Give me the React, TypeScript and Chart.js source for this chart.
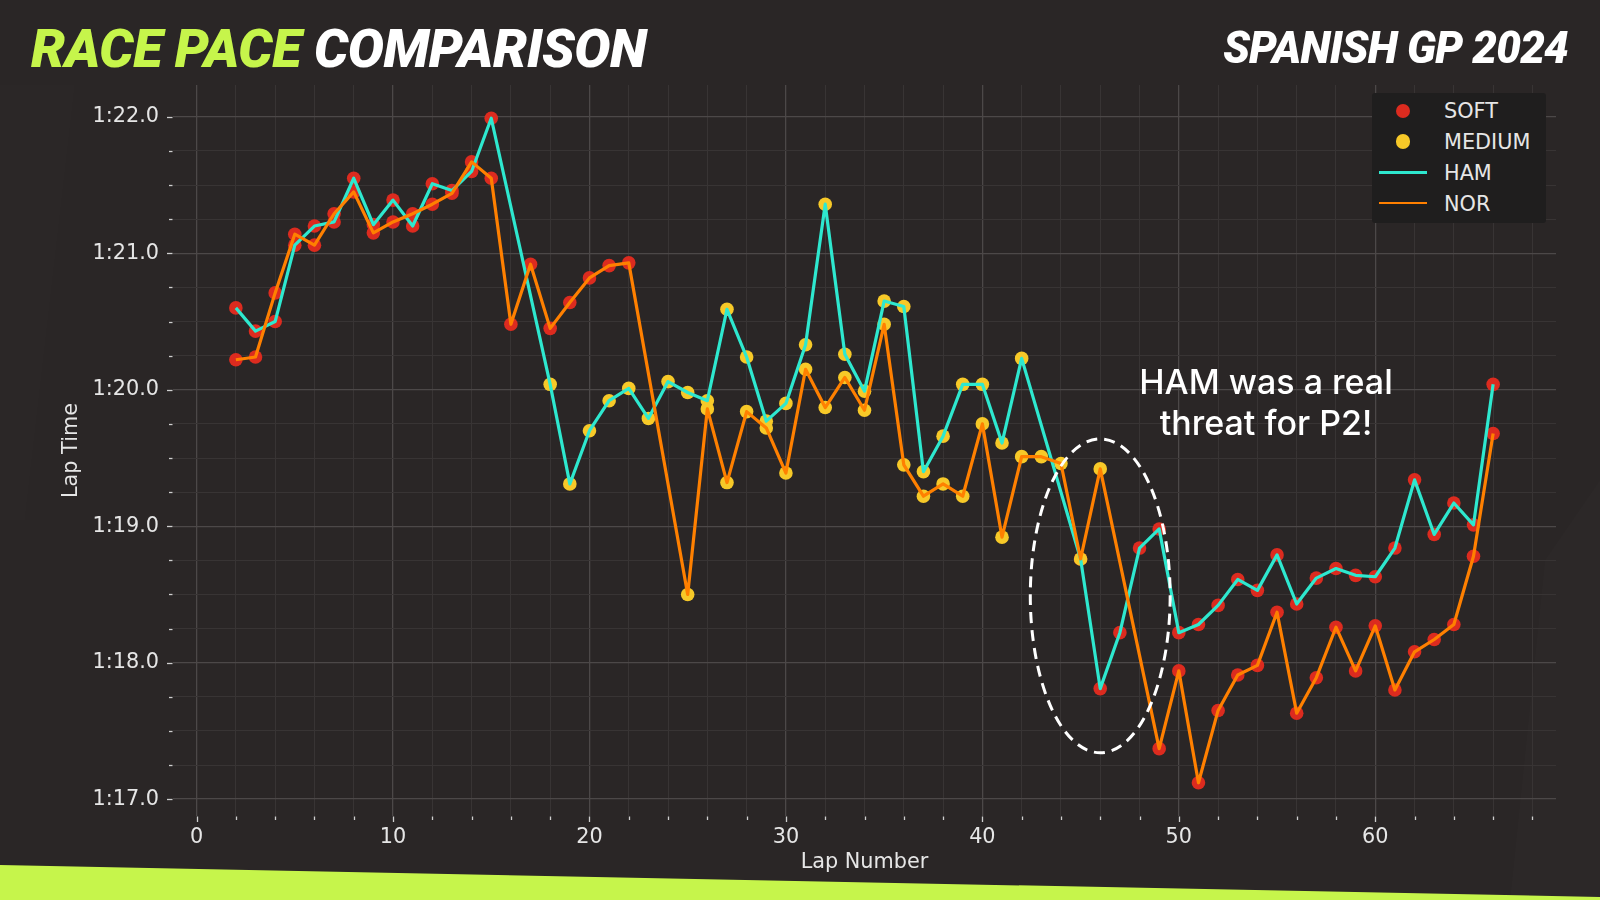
import React, { useEffect, useRef } from "react";
import { Chart, registerables } from "chart.js";

Chart.register(...registerables);

// ---------------- DATA ----------------
const laps = [
  2, 3, 4, 5, 6, 7, 8, 9, 10, 11, 12, 13, 14, 15, 16, 17, 18, 19, 20, 21, 22, 23, 24, 25, 26, 27, 28, 29, 30,
  31, 32, 33, 34, 35, 36, 37, 38, 39, 40, 41, 42, 43, 44, 45, 46, 47, 48, 49, 50, 51, 52, 53, 54, 55, 56, 57,
  58, 59, 60, 61, 62, 63, 64, 65, 66,
];

// lap times in seconds (null = in/out lap not shown)
const hamTimes: (number | null)[] = [
  80.6, 80.43, 80.5, 81.06, 81.2, 81.23, 81.55, 81.21, 81.39, 81.2, 81.51, 81.46, 81.6, 81.99, null, null,
  80.04, 79.31, 79.7, 79.92, 80.01, 79.79, 80.06, 79.98, 79.92, 80.59, 80.24, 79.77, 79.9, 80.33, 81.36,
  80.26, 79.99, 80.65, 80.61, 79.4, 79.66, 80.04, 80.04, 79.61, 80.23, null, null, 78.76, 77.81, 78.22,
  78.84, 78.98, 78.22, 78.28, 78.42, 78.61, 78.53, 78.79, 78.43, 78.62, 78.69, 78.64, 78.63, 78.84, 79.34,
  78.94, 79.17, 79.01, 80.04,
];

const norTimes: (number | null)[] = [
  80.22, 80.24, 80.71, 81.14, 81.06, 81.29, 81.45, 81.15, 81.23, 81.29, 81.36, 81.44, 81.67, 81.55, 80.48,
  80.92, 80.45, 80.64, 80.82, 80.91, 80.93, null, null, 78.5, 79.86, 79.32, 79.84, 79.72, 79.39, 80.15,
  79.87, 80.09, 79.85, 80.48, 79.45, 79.22, 79.31, 79.22, 79.75, 78.92, 79.51, 79.51, 79.46, 78.76, 79.42,
  null, null, 77.37, 77.94, 77.12, 77.65, 77.91, 77.98, 78.37, 77.63, 77.89, 78.26, 77.94, 78.27, 77.8,
  78.08, 78.17, 78.28, 78.78, 79.68,
];

// stints: [compound, first lap, last lap]
const hamStints: [string, number, number][] = [
  ["SOFT", 2, 17],
  ["MEDIUM", 18, 44],
  ["SOFT", 45, 66],
];
const norStints: [string, number, number][] = [
  ["SOFT", 2, 24],
  ["MEDIUM", 25, 48],
  ["SOFT", 49, 66],
];

const yMajorTicks = [77, 78, 79, 80, 81, 82];
const yMinorStep = 0.25;
const xMajorTicks = [0, 10, 20, 30, 40, 50, 60];
const xMinorStep = 2;

// ---------------- STYLE ----------------
const BG = "#2a2626";
const LIME = "#c6f54b";
const SOFT_COLOR = "#dc2b1f";
const MEDIUM_COLOR = "#f7c928";
const HAM_COLOR = "#2ee8cf";
const NOR_COLOR = "#ff8000";
const TEXT = "#e6e6e6";
const GRID_MAJOR = "#4c4848";
const GRID_MINOR = "#383434";
const TICK_FONT = "'DejaVu Sans', sans-serif";

// annotation ellipse (data units)
const ELLIPSE = { lap: 46, time: 78.49, rLaps: 3.56, rSecs: 1.15 };

function compoundOf(stints: [string, number, number][], lap: number) {
  for (const s of stints) if (lap >= s[1] && lap <= s[2]) return s[0];
  return null;
}

function compoundPoints(compound: string) {
  const pts: { x: number; y: number }[] = [];
  const drivers: [(number | null)[], [string, number, number][]][] = [
    [hamTimes, hamStints],
    [norTimes, norStints],
  ];
  for (const [times, stints] of drivers) {
    laps.forEach((lap, i) => {
      const t = times[i];
      if (t != null && compoundOf(stints, lap) === compound) pts.push({ x: lap, y: t });
    });
  }
  return pts;
}

function linePoints(times: (number | null)[]) {
  const pts: { x: number; y: number }[] = [];
  laps.forEach((lap, i) => {
    const t = times[i];
    if (t != null) pts.push({ x: lap, y: t });
  });
  return pts;
}

function fmtLap(v: number) {
  const m = Math.floor(v / 60);
  const s = v - m * 60;
  return `${m}:${s.toFixed(1).padStart(4, "0")}`;
}

const isYMajor = (v: number) => yMajorTicks.some((m) => Math.abs(m - v) < 1e-6);
const isXMajor = (v: number) => xMajorTicks.some((m) => Math.abs(m - v) < 1e-6);

export default function App() {
  const ref = useRef<HTMLCanvasElement | null>(null);

  useEffect(() => {
    if (!ref.current) return;
    const all = [...hamTimes, ...norTimes].filter((v) => v != null) as number[];
    const yMinD = Math.min(...all);
    const yMaxD = Math.max(...all);
    const yPad = (yMaxD - yMinD) * 0.05;
    const xPad = (laps[laps.length - 1] - laps[0]) * 0.05;

    const tickMarks = {
      id: "tickMarks",
      afterDraw(chart: any) {
        const { ctx, chartArea, scales } = chart;
        const x = scales.x;
        const y = scales.y;
        ctx.save();
        ctx.strokeStyle = "#cfcfcf";
        ctx.lineWidth = 1.3;
        for (const t of y.ticks) {
          const py = Math.round(y.getPixelForValue(t.value)) + 0.5;
          const len = isYMajor(t.value) ? 5.5 : 3.5;
          ctx.beginPath();
          ctx.moveTo(chartArea.left - len - 0.5, py);
          ctx.lineTo(chartArea.left - 0.5, py);
          ctx.stroke();
        }
        for (const t of x.ticks) {
          const px = Math.round(x.getPixelForValue(t.value)) + 0.5;
          const len = isXMajor(t.value) ? 5.5 : 3.5;
          ctx.beginPath();
          ctx.moveTo(px, chartArea.bottom + 0.5);
          ctx.lineTo(px, chartArea.bottom + len + 0.5);
          ctx.stroke();
        }
        ctx.restore();
      },
    };

    const ellipse = {
      id: "ellipse",
      afterDatasetsDraw(chart: any) {
        const { ctx, scales } = chart;
        const cx = scales.x.getPixelForValue(ELLIPSE.lap);
        const cy = scales.y.getPixelForValue(ELLIPSE.time);
        const rx = Math.abs(scales.x.getPixelForValue(ELLIPSE.lap + ELLIPSE.rLaps) - cx);
        const ry = Math.abs(scales.y.getPixelForValue(ELLIPSE.time + ELLIPSE.rSecs) - cy);
        ctx.save();
        ctx.strokeStyle = "#ffffff";
        ctx.lineWidth = 3;
        ctx.setLineDash([11, 7]);
        ctx.beginPath();
        ctx.ellipse(cx, cy, rx, ry, 0, 0, Math.PI * 2);
        ctx.stroke();
        ctx.restore();
      },
    };

    const chart = new Chart(ref.current, {
      type: "line",
      data: {
        datasets: [
          {
            label: "SOFT",
            data: compoundPoints("SOFT"),
            showLine: false,
            pointRadius: 6.8,
            pointBackgroundColor: SOFT_COLOR,
            pointBorderWidth: 0,
            borderColor: SOFT_COLOR,
            order: 4,
          },
          {
            label: "MEDIUM",
            data: compoundPoints("MEDIUM"),
            showLine: false,
            pointRadius: 6.8,
            pointBackgroundColor: MEDIUM_COLOR,
            pointBorderWidth: 0,
            borderColor: MEDIUM_COLOR,
            order: 3,
          },
          {
            label: "HAM",
            data: linePoints(hamTimes),
            borderColor: HAM_COLOR,
            borderWidth: 3.2,
            pointRadius: 0,
            tension: 0,
            borderJoinStyle: "round",
            order: 2,
          },
          {
            label: "NOR",
            data: linePoints(norTimes),
            borderColor: NOR_COLOR,
            borderWidth: 3.2,
            pointRadius: 0,
            tension: 0,
            borderJoinStyle: "round",
            order: 1,
          },
        ],
      } as any,
      options: {
        animation: false,
        responsive: false,
        devicePixelRatio: 1,
        layout: { padding: { top: 85, right: 44, left: 0, bottom: 0 } },
        plugins: { legend: { display: false }, tooltip: { enabled: false } },
        scales: {
          x: {
            type: "linear",
            min: laps[0] - xPad,
            max: laps[laps.length - 1] + xPad,
            afterFit(s: any) {
              s.height = 84;
            },
            afterBuildTicks(s: any) {
              const ticks = [];
              for (let v = Math.ceil(s.min / xMinorStep) * xMinorStep; v <= s.max + 1e-9; v += xMinorStep)
                ticks.push({ value: v });
              s.ticks = ticks;
            },
            ticks: {
              autoSkip: false,
              maxRotation: 0,
              color: TEXT,
              padding: 9,
              font: { family: TICK_FONT, size: 20.8 },
              callback: (v: any) => (isXMajor(Number(v)) ? String(v) : ""),
            },
            grid: {
              drawTicks: false,
              color: (c: any) => (c.tick && isXMajor(c.tick.value) ? GRID_MAJOR : GRID_MINOR),
              lineWidth: (c: any) => (c.tick && isXMajor(c.tick.value) ? 1.3 : 1),
            },
            border: { display: false },
            title: {
              display: true,
              text: "Lap Number",
              color: TEXT,
              font: { family: TICK_FONT, size: 20.8 },
              padding: { top: 0, bottom: 25 },
            },
          },
          y: {
            type: "linear",
            min: yMinD - yPad,
            max: yMaxD + yPad,
            afterFit(s: any) {
              s.width = 173;
            },
            afterBuildTicks(s: any) {
              const ticks = [];
              for (let v = Math.ceil(s.min / yMinorStep) * yMinorStep; v <= s.max + 1e-9; v += yMinorStep)
                ticks.push({ value: Math.round(v * 100) / 100 });
              s.ticks = ticks;
            },
            ticks: {
              autoSkip: false,
              color: TEXT,
              padding: 14,
              font: { family: TICK_FONT, size: 20.8 },
              callback: (v: any) => (isYMajor(Number(v)) ? fmtLap(Number(v)) : ""),
            },
            grid: {
              drawTicks: false,
              color: (c: any) => (c.tick && isYMajor(c.tick.value) ? GRID_MAJOR : GRID_MINOR),
              lineWidth: (c: any) => (c.tick && isYMajor(c.tick.value) ? 1.3 : 1),
            },
            border: { display: false },
            title: {
              display: true,
              text: "Lap Time",
              color: TEXT,
              font: { family: TICK_FONT, size: 20.8 },
              padding: { top: 59, bottom: 0 },
            },
          },
        },
      } as any,
      plugins: [tickMarks, ellipse],
    });
    return () => chart.destroy();
  }, []);

  const legendRows = [
    { label: "SOFT", kind: "dot", color: SOFT_COLOR },
    { label: "MEDIUM", kind: "dot", color: MEDIUM_COLOR },
    { label: "HAM", kind: "line", color: HAM_COLOR },
    { label: "NOR", kind: "line", color: NOR_COLOR },
  ];

  return (
    <div
      style={{
        position: "absolute",
        left: 0,
        top: 0,
        width: 1600,
        height: 900,
        background: BG,
        overflow: "hidden",
      }}
    >
      {/* subtle background shapes */}
      <div
        style={{
          position: "absolute",
          inset: 0,
          background: "rgba(255,255,255,0.008)",
          clipPath: "polygon(0px 85px, 75px 85px, 25px 520px, 0px 520px)",
        }}
      />
      <div
        style={{
          position: "absolute",
          inset: 0,
          background: "rgba(255,255,255,0.012)",
          clipPath: "polygon(1545px 560px, 1600px 480px, 1600px 900px, 1510px 900px)",
        }}
      />
      <canvas
        ref={ref}
        width={1600}
        height={900}
        style={{ position: "absolute", left: 0, top: 0, width: 1600, height: 900 }}
      />
      {/* lime band */}
      <div
        style={{
          position: "absolute",
          inset: 0,
          background: LIME,
          clipPath: "polygon(0px 865px, 1600px 897px, 1600px 900px, 0px 900px)",
        }}
      />
      {/* titles */}
      <div
        style={{
          position: "absolute",
          left: 31,
          top: 21.5,
          fontFamily: "Roboto, sans-serif",
          fontStyle: "italic",
          fontWeight: 900,
          fontSize: 54,
          lineHeight: "54px",
          whiteSpace: "nowrap",
          letterSpacing: -0.5,
        }}
      >
        <span style={{ color: LIME }}>RACE PACE</span> <span style={{ color: "#ffffff" }}>COMPARISON</span>
      </div>
      <div
        style={{
          position: "absolute",
          right: 32,
          top: 26,
          fontFamily: "Roboto, sans-serif",
          fontStyle: "italic",
          fontWeight: 900,
          fontSize: 44,
          lineHeight: "44px",
          whiteSpace: "nowrap",
          letterSpacing: -0.8,
          color: "#ffffff",
        }}
      >
        SPANISH GP 2024
      </div>
      {/* annotation */}
      <div
        style={{
          position: "absolute",
          left: 1066,
          top: 361,
          width: 400,
          textAlign: "center",
          fontFamily: "Inter, sans-serif",
          fontWeight: 500,
          fontSize: 34,
          lineHeight: "41px",
          color: "#ffffff",
        }}
      >
        HAM was a real
        <br />
        threat for P2!
      </div>
      {/* legend */}
      <div
        style={{
          position: "absolute",
          left: 1372,
          top: 93,
          width: 174,
          height: 130,
          background: "#1f1e1e",
          borderRadius: 3,
        }}
      >
        {legendRows.map((r, i) => {
          const cy = 18 + i * 30.7;
          return (
            <React.Fragment key={r.label}>
              {r.kind === "dot" ? (
                <div
                  style={{
                    position: "absolute",
                    left: 31 - 7.3,
                    top: cy - 7.3,
                    width: 14.6,
                    height: 14.6,
                    borderRadius: "50%",
                    background: r.color,
                  }}
                />
              ) : (
                <div
                  style={{
                    position: "absolute",
                    left: 7,
                    top: cy - 1.3,
                    width: 48,
                    height: 2.6,
                    background: r.color,
                  }}
                />
              )}
              <div
                style={{
                  position: "absolute",
                  left: 72,
                  top: cy - 11.6,
                  fontFamily: TICK_FONT,
                  fontSize: 20.8,
                  lineHeight: "24px",
                  color: TEXT,
                  whiteSpace: "nowrap",
                }}
              >
                {r.label}
              </div>
            </React.Fragment>
          );
        })}
      </div>
    </div>
  );
}
